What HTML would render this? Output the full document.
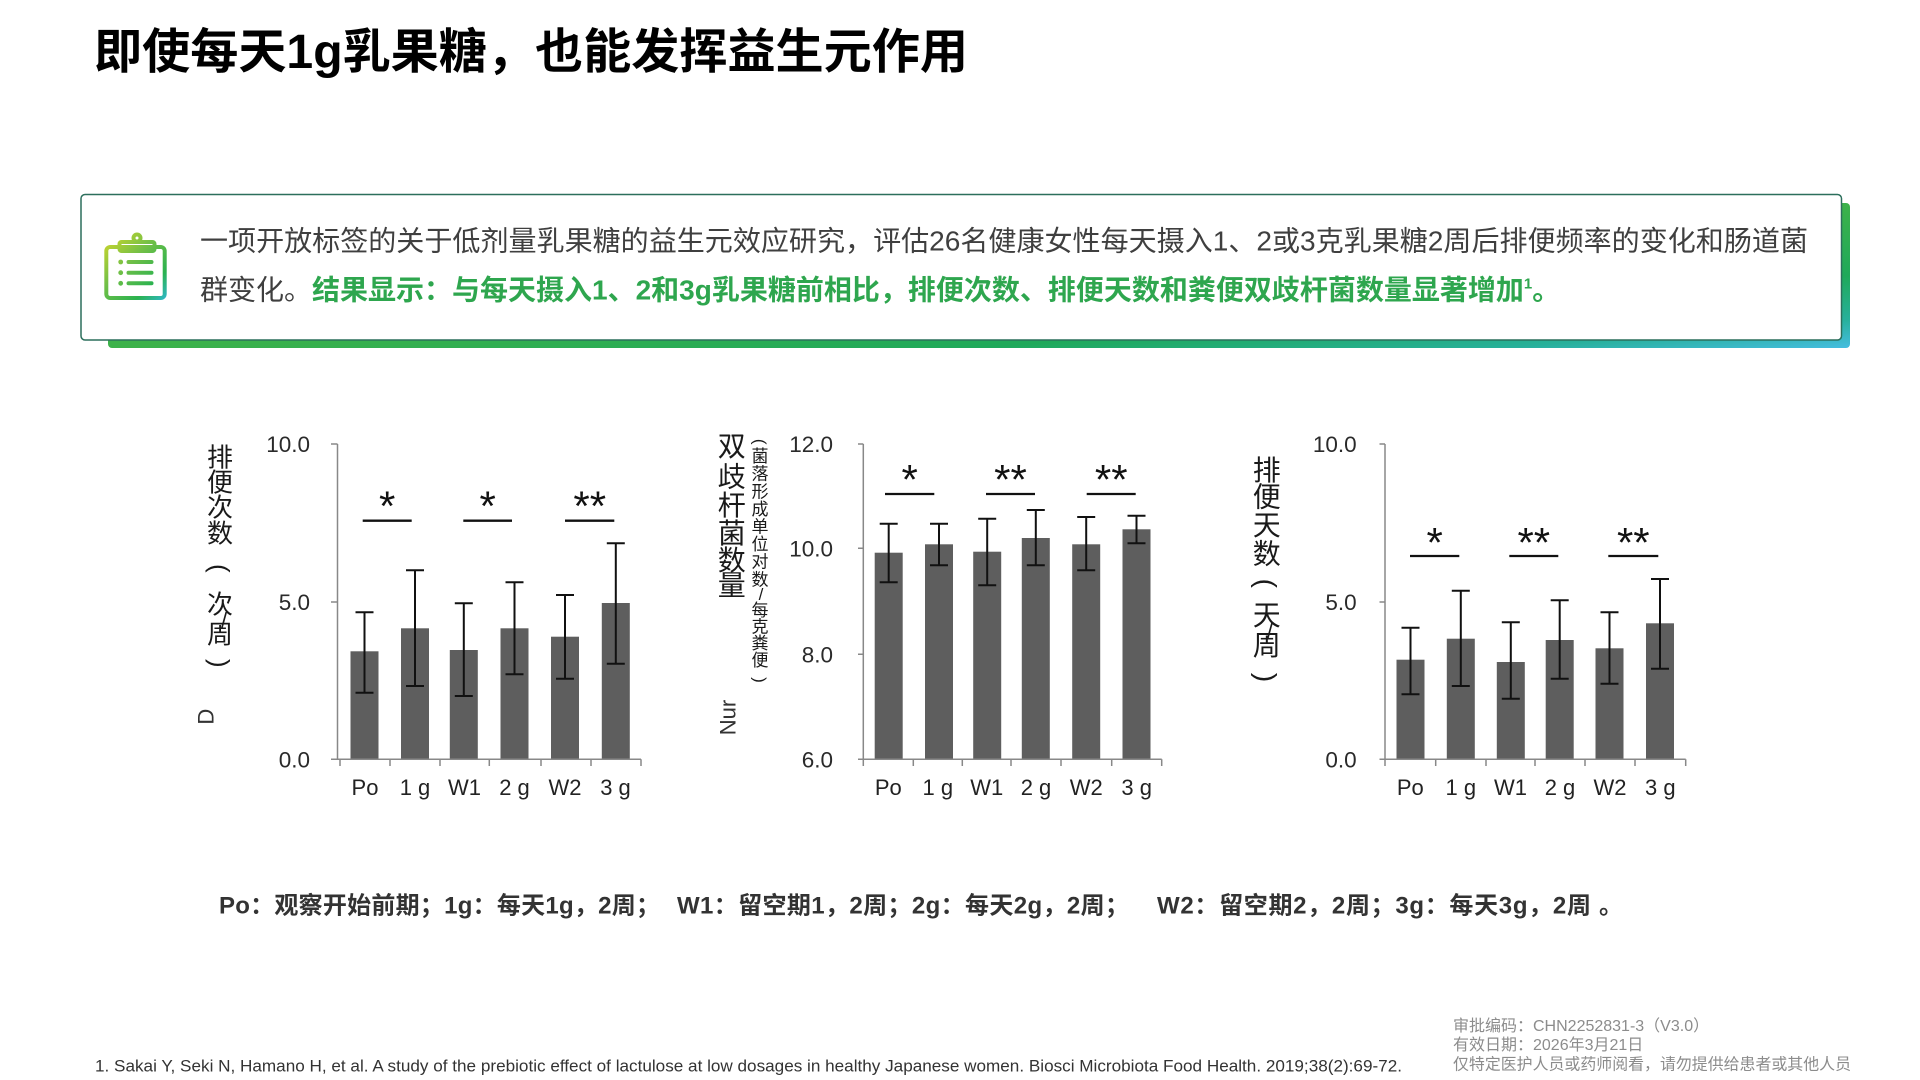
<!DOCTYPE html>
<html>
<head>
<meta charset="utf-8">
<style>
html,body{margin:0;padding:0;background:#fff;}
body{width:1920px;height:1080px;overflow:hidden;}
svg{display:block;}
text{font-family:"Liberation Sans","Noto Sans CJK SC",sans-serif;}
.tick{font-size:22.5px;fill:#2a2a2a;text-anchor:end;}
.xl{font-size:22px;fill:#222;text-anchor:middle;}
.star{font-size:42px;fill:#111;text-anchor:middle;}
.vl{fill:#1a1a1a;text-anchor:middle;}
</style>
</head>
<body>
<svg width="1920" height="1080" viewBox="0 0 1920 1080" xmlns="http://www.w3.org/2000/svg">
<defs>
  <linearGradient id="shade" x1="0" y1="0" x2="1" y2="1">
    <stop offset="0" stop-color="#58b947"/>
    <stop offset="0.5" stop-color="#3cb24a"/>
    <stop offset="0.75" stop-color="#1fa95a"/>
    <stop offset="0.9" stop-color="#27b09a"/>
    <stop offset="1" stop-color="#45bde0"/>
  </linearGradient>
  <linearGradient id="ico" gradientUnits="userSpaceOnUse" x1="104" y1="234" x2="168" y2="301">
    <stop offset="0" stop-color="#d6d82a"/>
    <stop offset="0.4" stop-color="#74c046"/>
    <stop offset="0.75" stop-color="#2bb24f"/>
    <stop offset="1" stop-color="#2fb8d8"/>
  </linearGradient>
</defs>

<!-- Title -->
<text x="94" y="68" font-size="48" font-weight="bold" fill="#000" textLength="874" lengthAdjust="spacingAndGlyphs">即使每天1g乳果糖，也能发挥益生元作用</text>

<!-- Info box -->
<rect x="108" y="203" width="1742" height="145" rx="4" fill="url(#shade)"/>
<rect x="81" y="194.5" width="1760.5" height="145.5" rx="4" fill="#fff" stroke="#2c6f5c" stroke-width="1.5"/>

<!-- clipboard icon -->
<g fill="none" stroke="url(#ico)" stroke-width="4" stroke-linecap="round" stroke-linejoin="round">
  <rect x="106.3" y="247" width="58.4" height="51" rx="4"/>
  <rect x="119.5" y="242" width="35" height="9" rx="2"/>
  <circle cx="137" cy="238" r="3.5"/>
  <line x1="128.5" y1="262" x2="151.5" y2="262"/>
  <line x1="128.5" y1="272.7" x2="151.5" y2="272.7"/>
  <line x1="128.5" y1="283.3" x2="151.5" y2="283.3"/>
</g>
<g fill="url(#ico)">
  <circle cx="120.7" cy="262" r="2.4"/>
  <circle cx="120.7" cy="272.7" r="2.4"/>
  <circle cx="120.7" cy="283.3" r="2.4"/>
</g>

<text x="200" y="250.5" font-size="28" fill="#3f3f3f" textLength="1608" lengthAdjust="spacingAndGlyphs">一项开放标签的关于低剂量乳果糖的益生元效应研究，评估26名健康女性每天摄入1、2或3克乳果糖2周后排便频率的变化和肠道菌</text>
<text x="200" y="299.5" font-size="28" fill="#3f3f3f">群变化。<tspan font-weight="bold" fill="#2ea64e">结果显示：与每天摄入1、2和3g乳果糖前相比，排便次数、排便天数和粪便双歧杆菌数量显著增加</tspan><tspan font-weight="bold" fill="#2ea64e" font-size="15" dy="-11">1</tspan><tspan font-weight="bold" fill="#2ea64e" dy="11">。</tspan></text>

<!-- ================= Chart 1 ================= -->
<g fill="#5e5e5e">
  <rect x="350.5" y="651.3" width="28" height="108"/>
  <rect x="401" y="628.3" width="28" height="131"/>
  <rect x="449.8" y="650" width="28" height="109.3"/>
  <rect x="500.5" y="628.3" width="28" height="131"/>
  <rect x="551" y="636.7" width="28" height="122.6"/>
  <rect x="601.8" y="603" width="28" height="156.3"/>
</g>
<path fill="none" stroke="#888" stroke-width="1.5" d="M337.5 444V759.3M331 444H337.5M331 602H337.5M331 759.3H641M340 759.3V766M390 759.3V766M440 759.3V766M489.3 759.3V766M541 759.3V766M591 759.3V766M641 759.3V766"/>
<path fill="none" stroke="#111" stroke-width="2" d="M364.5 612.3V692.7M355.5 612.3H373.5M355.5 692.7H373.5M415 570.3V686M406 570.3H424M406 686H424M463.8 603.3V696M454.8 603.3H472.8M454.8 696H472.8M514.5 582.3V674.3M505.5 582.3H523.5M505.5 674.3H523.5M565 595V678.7M556 595H574M556 678.7H574M615.8 543.3V663.7M606.8 543.3H624.8M606.8 663.7H624.8"/>
<path fill="none" stroke="#111" stroke-width="2.3" d="M362.7 520.7H411.7M463.3 520.7H512M565 520.7H614.3"/>
<text class="star" x="387.2" y="520.5">*</text>
<text class="star" x="487.7" y="520.5">*</text>
<text class="star" x="589.7" y="520.5">**</text>
<text class="tick" x="310" y="452">10.0</text>
<text class="tick" x="310" y="610">5.0</text>
<text class="tick" x="310" y="767.3">0.0</text>
<text class="xl" x="365" y="795">Po</text>
<text class="xl" x="415" y="795">1 g</text>
<text class="xl" x="464.5" y="795">W1</text>
<text class="xl" x="514.5" y="795">2 g</text>
<text class="xl" x="565" y="795">W2</text>
<text class="xl" x="615.5" y="795">3 g</text>
<!-- y label chart 1 -->
<g class="vl" font-size="26">
  <text x="220" y="466.6">排</text>
  <text x="220" y="491.6">便</text>
  <text x="220" y="516.6">次</text>
  <text x="220" y="542.6">数</text>
  <text x="220" y="568.3" dominant-baseline="central" transform="rotate(90 220 568.3)">(</text>
  <text x="220" y="613.3">次</text>
  <text x="224" y="628" font-size="22">/</text>
  <text x="220" y="643.3">周</text>
  <text x="220" y="663.3" dominant-baseline="central" transform="rotate(90 220 663.3)">)</text>
</g>
<text x="206" y="716.7" font-size="22" fill="#333" text-anchor="middle" dominant-baseline="central" transform="rotate(-90 206 716.7)">D</text>

<!-- ================= Chart 2 ================= -->
<g fill="#5e5e5e">
  <rect x="874.7" y="552.7" width="28" height="206.6"/>
  <rect x="925" y="544.3" width="28" height="215"/>
  <rect x="973.2" y="551.7" width="28" height="207.6"/>
  <rect x="1021.8" y="538" width="28" height="221.3"/>
  <rect x="1072.2" y="544.3" width="28" height="215"/>
  <rect x="1122.5" y="529.3" width="28" height="230"/>
</g>
<path fill="none" stroke="#888" stroke-width="1.5" d="M863.3 444V759.3M858 444H863.3M858 548.3H863.3M858 654.3H863.3M858 759.3H1161.7M863.3 759.3V766M913.3 759.3V766M962.3 759.3V766M1011 759.3V766M1061 759.3V766M1111.7 759.3V766M1161.7 759.3V766"/>
<path fill="none" stroke="#111" stroke-width="2" d="M888.7 523.7V582.3M879.7 523.7H897.7M879.7 582.3H897.7M939 523.7V565.3M930 523.7H948M930 565.3H948M987.2 518.7V585.3M978.2 518.7H996.2M978.2 585.3H996.2M1035.8 510V565.3M1026.8 510H1044.8M1026.8 565.3H1044.8M1086.2 517V570.3M1077.2 517H1095.2M1077.2 570.3H1095.2M1136.5 515.7V543.3M1127.5 515.7H1145.5M1127.5 543.3H1145.5"/>
<path fill="none" stroke="#111" stroke-width="2.3" d="M885 494H934.3M986 494H1035M1086.7 494H1135.7"/>
<text class="star" x="909.7" y="494">*</text>
<text class="star" x="1010.5" y="494">**</text>
<text class="star" x="1111.2" y="494">**</text>
<text class="tick" x="833" y="452">12.0</text>
<text class="tick" x="833" y="556.3">10.0</text>
<text class="tick" x="833" y="662.3">8.0</text>
<text class="tick" x="833" y="767.3">6.0</text>
<text class="xl" x="888.3" y="795">Po</text>
<text class="xl" x="937.8" y="795">1 g</text>
<text class="xl" x="986.7" y="795">W1</text>
<text class="xl" x="1036" y="795">2 g</text>
<text class="xl" x="1086.3" y="795">W2</text>
<text class="xl" x="1136.7" y="795">3 g</text>
<g class="vl" font-size="28">
  <text x="731.7" y="456.2">双</text>
  <text x="731.7" y="486.5">歧</text>
  <text x="731.7" y="514.9">杆</text>
  <text x="731.7" y="543.2">菌</text>
  <text x="731.7" y="569.9">数</text>
  <text x="731.7" y="594.9">量</text>
</g>
<g class="vl" font-size="17">
  <text x="760" y="441.7" dominant-baseline="central" transform="rotate(90 760 441.7)">(</text>
  <text x="760" y="462.1">菌</text>
  <text x="760" y="479.7">落</text>
  <text x="760" y="497.3">形</text>
  <text x="760" y="514.9">成</text>
  <text x="760" y="532.5">单</text>
  <text x="760" y="550.1">位</text>
  <text x="760" y="567.7">对</text>
  <text x="760" y="585.3">数</text>
  <text x="761" y="600">/</text>
  <text x="760" y="615.8">每</text>
  <text x="760" y="632.4">克</text>
  <text x="760" y="649.1">粪</text>
  <text x="760" y="665.8">便</text>
  <text x="760" y="680" dominant-baseline="central" transform="rotate(90 760 680)">)</text>
</g>
<text x="728" y="717.5" font-size="22" fill="#333" text-anchor="middle" dominant-baseline="central" transform="rotate(-90 728 717.5)">Nur</text>

<!-- ================= Chart 3 ================= -->
<g fill="#5e5e5e">
  <rect x="1396.5" y="659.7" width="28" height="99.6"/>
  <rect x="1446.8" y="638.7" width="28" height="120.6"/>
  <rect x="1496.8" y="662" width="28" height="97.3"/>
  <rect x="1545.7" y="640" width="28" height="119.3"/>
  <rect x="1595.5" y="648.3" width="28" height="111"/>
  <rect x="1646" y="623.3" width="28" height="136"/>
</g>
<path fill="none" stroke="#888" stroke-width="1.5" d="M1385 444V759.3M1379.5 444H1385M1379.5 602H1385M1379.5 759.3H1685.7M1385 759.3V766M1435.7 759.3V766M1486 759.3V766M1535 759.3V766M1585 759.3V766M1635 759.3V766M1685.7 759.3V766"/>
<path fill="none" stroke="#111" stroke-width="2" d="M1410.5 627.7V694.3M1401.5 627.7H1419.5M1401.5 694.3H1419.5M1460.8 590.7V686M1451.8 590.7H1469.8M1451.8 686H1469.8M1510.8 622.3V698.7M1501.8 622.3H1519.8M1501.8 698.7H1519.8M1559.7 600.3V678.7M1550.7 600.3H1568.7M1550.7 678.7H1568.7M1609.5 612.3V683.7M1600.5 612.3H1618.5M1600.5 683.7H1618.5M1660 579V668.7M1651 579H1669M1651 668.7H1669"/>
<path fill="none" stroke="#111" stroke-width="2.3" d="M1410 556H1459.3M1509.3 556H1558.3M1608.3 556H1658.3"/>
<text class="star" x="1434.7" y="557">*</text>
<text class="star" x="1533.8" y="557">**</text>
<text class="star" x="1633.3" y="557">**</text>
<text class="tick" x="1356.7" y="452">10.0</text>
<text class="tick" x="1356.7" y="610">5.0</text>
<text class="tick" x="1356.7" y="767.3">0.0</text>
<text class="xl" x="1410.3" y="795">Po</text>
<text class="xl" x="1460.8" y="795">1 g</text>
<text class="xl" x="1510.5" y="795">W1</text>
<text class="xl" x="1560" y="795">2 g</text>
<text class="xl" x="1610" y="795">W2</text>
<text class="xl" x="1660.3" y="795">3 g</text>
<g class="vl" font-size="28">
  <text x="1266.7" y="480">排</text>
  <text x="1266.7" y="506.6">便</text>
  <text x="1266.7" y="535">天</text>
  <text x="1266.7" y="563.3">数</text>
  <text x="1266.7" y="583.3" dominant-baseline="central" transform="rotate(90 1266.7 583.3)">(</text>
  <text x="1266.7" y="625">天</text>
  <text x="1270" y="638" font-size="22">/</text>
  <text x="1266.7" y="655">周</text>
  <text x="1266.7" y="677.5" dominant-baseline="central" transform="rotate(90 1266.7 677.5)">)</text>
</g>

<!-- Legend -->
<g font-size="24" font-weight="bold" fill="#333">
  <text x="219" y="913.5" textLength="441">Po：观察开始前期；1g：每天1g，2周；</text>
  <text x="677" y="913.5" textLength="452">W1：留空期1，2周；2g：每天2g，2周；</text>
  <text x="1157" y="913.5" textLength="466">W2：留空期2，2周；3g：每天3g，2周 。</text>
</g>

<!-- Footer -->
<g font-size="16" fill="#8c8c8c">
  <text x="1453" y="1031">审批编码：CHN2252831-3（V3.0）</text>
  <text x="1453" y="1050">有效日期：2026年3月21日</text>
  <text x="1453" y="1069.5" textLength="398" lengthAdjust="spacingAndGlyphs">仅特定医护人员或药师阅看，请勿提供给患者或其他人员</text>
</g>
<text x="95" y="1071.5" font-size="17" fill="#333" textLength="1307" lengthAdjust="spacingAndGlyphs">1. Sakai Y, Seki N, Hamano H, et al. A study of the prebiotic effect of lactulose at low dosages in healthy Japanese women. Biosci Microbiota Food Health. 2019;38(2):69-72.</text>
</svg>
</body>
</html>
